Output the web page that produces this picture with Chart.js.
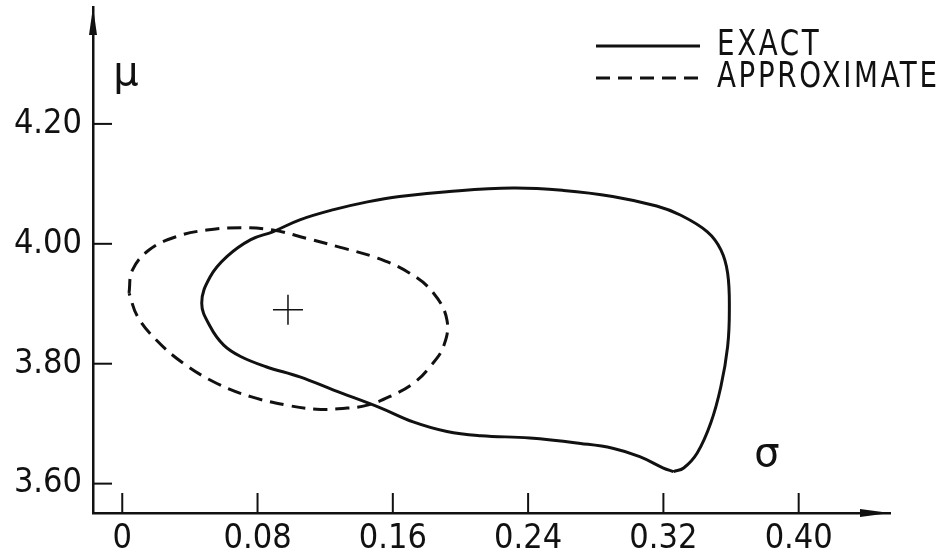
<!DOCTYPE html>
<html>
<head>
<meta charset="utf-8">
<script src="https://cdn.jsdelivr.net/npm/chart.js"></script>
<style>
  html, body { margin: 0; padding: 0; background: #fff; }
  #wrap { width: 948px; height: 556px; }
</style>
</head>
<body>
<div id="wrap"><canvas id="chart" width="948" height="556"></canvas></div>
<script>
// sigma / mu values
var exactSigma = [0.326, 0.320, 0.306, 0.290, 0.271, 0.241, 0.212, 0.192, 0.172, 0.153, 0.125, 0.105, 0.085, 0.070, 0.060, 0.052, 0.047, 0.052, 0.062, 0.076, 0.089, 0.105, 0.125, 0.145, 0.164, 0.192, 0.231, 0.261, 0.290, 0.316, 0.330, 0.346, 0.354, 0.358, 0.359, 0.358, 0.354, 0.348, 0.340, 0.332, 0.326]
var exactMu = [3.620, 3.626, 3.645, 3.659, 3.667, 3.676, 3.680, 3.687, 3.703, 3.726, 3.756, 3.778, 3.795, 3.812, 3.831, 3.862, 3.901, 3.945, 3.979, 4.007, 4.020, 4.040, 4.057, 4.070, 4.079, 4.087, 4.093, 4.089, 4.079, 4.063, 4.048, 4.020, 3.990, 3.951, 3.890, 3.829, 3.762, 3.701, 3.651, 3.626, 3.620]

var approxSigma = [0.004, 0.006, 0.016, 0.032, 0.050, 0.070, 0.089, 0.109, 0.129, 0.151, 0.170, 0.184, 0.192, 0.190, 0.182, 0.172, 0.158, 0.145, 0.133, 0.115, 0.097, 0.076, 0.056, 0.036, 0.020, 0.009, 0.004]
var approxMu = [3.918, 3.956, 3.990, 4.012, 4.023, 4.027, 4.023, 4.009, 3.994, 3.976, 3.951, 3.918, 3.873, 3.829, 3.795, 3.767, 3.745, 3.731, 3.726, 3.724, 3.731, 3.745, 3.767, 3.801, 3.840, 3.879, 3.918]

var centerSigma = [0.098]
var centerMu = [3.89]

var xTicks = [0, 0.08, 0.16, 0.24, 0.32, 0.40]
var yTicks = [3.60, 3.80, 4.00, 4.20]
var seriesLabels = ['EXACT', 'APPROXIMATE']

var INK = '#111'
var tickFont = { family: "'DejaVu Sans Condensed', 'Liberation Sans Narrow', sans-serif", size: 34 }

function toPoints(xs, ys) {
    return xs.map(function (x, i) { return { x: x, y: ys[i] } })
}

// arrows, inward tick marks, axis symbols and the legend
var decorPlugin = {
    id: 'decor',
    afterDraw: function (chart) {
        var ctx = chart.ctx
        var xs = chart.scales.x, ys = chart.scales.y
        var area = chart.chartArea
        ctx.save()
        ctx.strokeStyle = INK
        ctx.fillStyle = INK
        ctx.lineWidth = 2

        // tick marks point into the plot
        xs.ticks.forEach(function (t) {
            var px = xs.getPixelForValue(t.value)
            ctx.beginPath()
            ctx.moveTo(px, area.bottom)
            ctx.lineTo(px, area.bottom - 20)
            ctx.stroke()
        })
        ys.ticks.forEach(function (t) {
            var py = ys.getPixelForValue(t.value)
            ctx.beginPath()
            ctx.moveTo(area.left, py)
            ctx.lineTo(area.left + 19, py)
            ctx.stroke()
        })

        // arrow heads
        ctx.beginPath()
        ctx.moveTo(area.left, area.top)
        ctx.lineTo(area.left - 4, area.top + 28)
        ctx.lineTo(area.left + 4, area.top + 28)
        ctx.closePath()
        ctx.fill()
        ctx.beginPath()
        ctx.moveTo(area.right, area.bottom)
        ctx.lineTo(area.right - 30, area.bottom - 4)
        ctx.lineTo(area.right - 30, area.bottom + 4)
        ctx.closePath()
        ctx.fill()

        // axis symbols
        ctx.textAlign = 'center'
        ctx.textBaseline = 'alphabetic'
        ctx.font = "40px 'DejaVu Sans', sans-serif"
        ctx.fillText('\u03bc', 126, 85)
        ctx.fillText('\u03c3', 767, 466)

        // legend
        var rows = [{ ds: 0, y: 46 }, { ds: 1, y: 78 }]
        rows.forEach(function (r) {
            var ds = chart.data.datasets[r.ds]
            ctx.save()
            ctx.lineWidth = 3
            ctx.setLineDash(ds.borderDash || [])
            ctx.beginPath()
            ctx.moveTo(596, r.y)
            ctx.lineTo(700, r.y)
            ctx.stroke()
            ctx.restore()

            ctx.save()
            ctx.translate(717, r.y)
            ctx.scale(0.88, 1)
            ctx.font = "35px 'DejaVu Sans Condensed', sans-serif"
            ctx.letterSpacing = '3px'
            ctx.textAlign = 'left'
            ctx.textBaseline = 'middle'
            ctx.fillText(ds.label, 0, 0)
            ctx.restore()
        })
        ctx.restore()
    }
}

var chart = new Chart(document.getElementById('chart'), {
    type: 'scatter',
    data: {
        datasets: [
            {
                label: seriesLabels[0],
                data: toPoints(exactSigma, exactMu),
                showLine: true,
                borderColor: INK,
                borderWidth: 3,
                tension: 0.4,
                pointRadius: 0
            },
            {
                label: seriesLabels[1],
                data: toPoints(approxSigma, approxMu),
                showLine: true,
                borderColor: INK,
                borderWidth: 3,
                borderDash: [14, 8],
                tension: 0.4,
                pointRadius: 0
            },
            {
                label: 'center',
                data: toPoints(centerSigma, centerMu),
                showLine: false,
                pointStyle: 'cross',
                pointRadius: 15,
                borderColor: INK,
                borderWidth: 1.5
            }
        ]
    },
    options: {
        responsive: false,
        animation: false,
        layout: { autoPadding: false, padding: { top: 7, right: 58, left: 0, bottom: 0 } },
        plugins: { legend: { display: false }, tooltip: { enabled: false } },
        scales: {
            x: {
                type: 'linear',
                min: -0.0173,
                max: 0.454,
                grid: { display: false, drawTicks: false },
                border: { display: true, color: INK, width: 2.5 },
                afterBuildTicks: function (s) { s.ticks = xTicks.map(function (v) { return { value: v } }) },
                afterFit: function (s) {
                    s.height = 43
                    s.paddingLeft = 0
                    s.paddingRight = 0
                },
                ticks: {
                    color: INK,
                    font: tickFont,
                    padding: 6,
                    maxRotation: 0,
                    autoSkip: false,
                    callback: function (v) { return v === 0 ? '0' : v.toFixed(2) }
                }
            },
            y: {
                type: 'linear',
                min: 3.551,
                max: 4.395,
                grid: { display: false, drawTicks: false },
                border: { display: true, color: INK, width: 2.5 },
                afterBuildTicks: function (s) { s.ticks = yTicks.map(function (v) { return { value: v } }) },
                afterFit: function (s) {
                    s.width = 93
                    s.paddingTop = 0
                    s.paddingBottom = 0
                },
                ticks: {
                    color: INK,
                    font: tickFont,
                    padding: 11,
                    autoSkip: false,
                    callback: function (v) { return v.toFixed(2) }
                }
            }
        }
    },
    plugins: [decorPlugin]
})
</script>
</body>
</html>
